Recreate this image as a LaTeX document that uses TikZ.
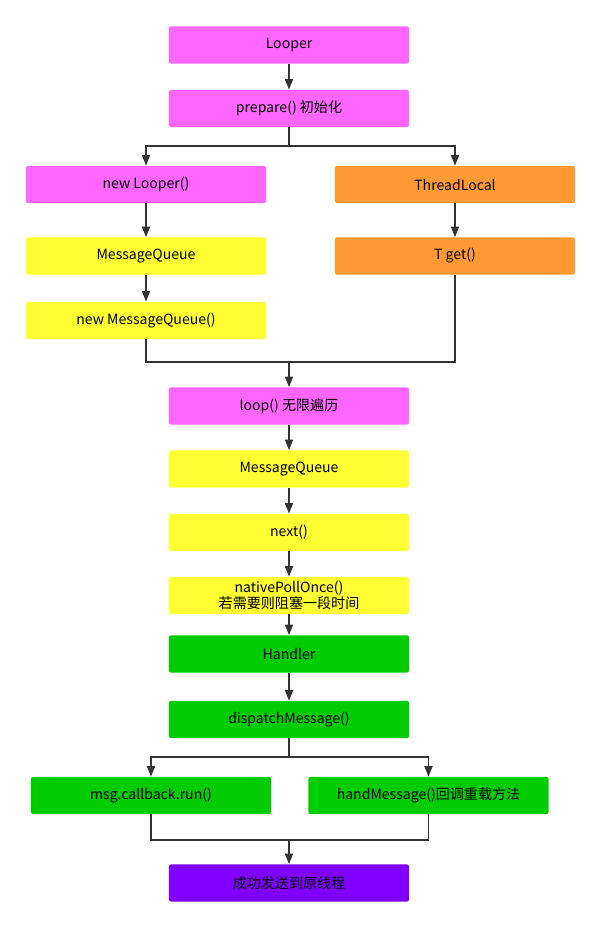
\documentclass[tikz,border=0pt]{standalone}
\usepackage{fontspec}
\setmainfont{Noto Sans CJK SC}
\usetikzlibrary{arrows.meta}
\definecolor{magentabox}{HTML}{FF66FF}
\definecolor{orangebox}{HTML}{FF9933}
\definecolor{yellowbox}{HTML}{FFFF33}
\definecolor{greenbox}{HTML}{00CC00}
\definecolor{purplebox}{HTML}{7F00FF}
\definecolor{linegray}{HTML}{333333}
\tikzset{
	box/.style={rounded corners=1.5pt, minimum width=6cm, minimum height=0.93cm, inner sep=1pt, align=center, font=\fontsize{10}{11.5}\selectfont},
	link/.style={draw=linegray, line width=1pt},
	arr/.style={link, -{Triangle[length=0.26cm, width=0.2cm]}}
}
\begin{document}
	\begin{tikzpicture}[x=0.025cm, y=-0.025cm]
		\useasboundingbox (0,0) rectangle (600,927);
		% upper part
		\node[box, fill=magentabox] (looper) at (289,45) {Looper};
		\node[box, fill=magentabox] (prepare) at (289,108.5) {prepare() 初始化};
		\node[box, fill=magentabox] (newlooper) at (146,184.5) {new Looper()};
		\node[box, fill=orangebox] (threadlocal) at (455,184.5) {ThreadLocal};
		\node[box, fill=yellowbox] (queuea) at (146,256) {MessageQueue};
		\node[box, fill=orangebox] (tget) at (455,256) {T get()};
		\node[box, fill=yellowbox] (newqueue) at (146,320.5) {new MessageQueue()};
		\coordinate (splita) at (289,146);
		\coordinate (joina) at (289,362);
		% loop part
		\node[box, fill=magentabox] (loop) at (289,406) {loop() 无限遍历};
		\node[box, fill=yellowbox] (queueb) at (289,469) {MessageQueue};
		\node[box, fill=yellowbox] (next) at (289,532.5) {next()};
		\node[box, fill=yellowbox] (poll) at (289,595.5) {nativePollOnce()\\若需要则阻塞一段时间};
		\node[box, fill=greenbox] (handler) at (289,654) {Handler};
		\node[box, fill=greenbox] (dispatch) at (289,719.5) {dispatchMessage()};
		\node[box, fill=greenbox] (callback) at (151,795.5) {msg.callback.run()};
		\node[box, fill=greenbox] (handmsg) at (428.5,795.5) {handMessage()回调重载方法};
		\node[box, fill=purplebox] (done) at (289,883) {成功发送到原线程};
		\coordinate (splitb) at (289,757);
		\coordinate (joinb) at (289,840);
		% connectors
		\draw[arr] (looper) -- (prepare);
		\draw[link] (prepare) -- (splita);
		\draw[arr] (splita) -| (newlooper);
		\draw[arr] (splita) -| (threadlocal);
		\draw[arr] (newlooper) -- (queuea);
		\draw[arr] (queuea) -- (newqueue);
		\draw[arr] (threadlocal) -- (tget);
		\draw[link] (newqueue) |- (joina) -| (tget);
		\draw[arr] (joina) -- (loop);
		\draw[arr] (loop) -- (queueb);
		\draw[arr] (queueb) -- (next);
		\draw[arr] (next) -- (poll);
		\draw[arr] (poll) -- (handler);
		\draw[arr] (handler) -- (dispatch);
		\draw[link] (dispatch) -- (splitb);
		\draw[arr] (splitb) -| (callback);
		\draw[arr] (splitb) -| (handmsg);
		\draw[link] (callback) |- (joinb) -| (handmsg);
		\draw[arr] (joinb) -- (done);
	\end{tikzpicture}
\end{document}
